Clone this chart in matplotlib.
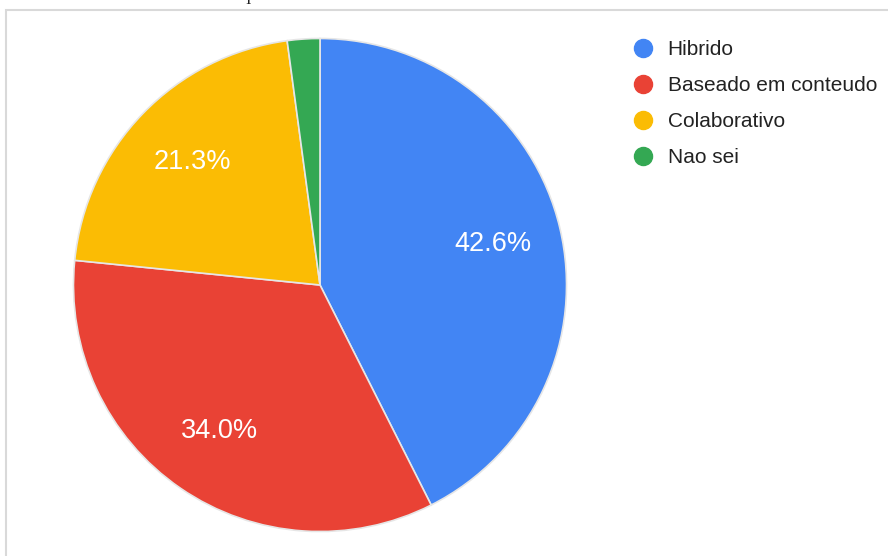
import matplotlib.pyplot as plt
from matplotlib.lines import Line2D
from matplotlib.patches import Rectangle

labels = ['Hibrido', 'Baseado em conteudo', 'Colaborativo', 'Nao sei']
counts = [20, 16, 10, 1]
colors = ['#4285F4', '#E94235', '#FBBC04', '#34A853']

plt.rcParams['font.family'] = ['Liberation Sans', 'DejaVu Sans']

fig = plt.figure(figsize=(8.88, 5.56), dpi=100)

# grey chart frame (partly cut off by the screenshot)
fig.patches.append(Rectangle((6 / 888, -0.1), 1.2, (556 - 10) / 556 + 0.1,
                             transform=fig.transFigure, fill=False,
                             edgecolor='#d9d9d9', linewidth=1.5))
# fragment of the cut-off title
fig.text(248 / 888, 1.0, 'I', ha='center', va='center', fontsize=12,
         family='Liberation Serif', color='#222222')

ax = fig.add_axes([72.5 / 888, (556 - 532.5) / 556, 495 / 888, 495 / 556])


def pct(p):
    return f'{p:.1f}%' if p > 5 else ''


wedges, texts, autotexts = ax.pie(
    counts, colors=colors, startangle=90, counterclock=False,
    autopct=pct, pctdistance=0.72,
    wedgeprops=dict(edgecolor='#e6e6e6', linewidth=1.2),
    textprops=dict(color='white', fontsize=19.5))
ax.set_xlim(-1.004, 1.004)
ax.set_ylim(-1.004, 1.004)
ax.set_aspect('equal')
ax.axis('off')

handles = [Line2D([], [], marker='o', linestyle='', markersize=13,
                  markerfacecolor=c, markeredgecolor=c) for c in colors]
fig.legend(handles, labels, loc='upper left',
           bbox_to_anchor=(612 / 888, 1 - 21.5 / 556), frameon=False,
           fontsize=15, labelspacing=0.82, handletextpad=0.57,
           handlelength=1.2, labelcolor='#222222')

fig.savefig('out.png', dpi=100)
